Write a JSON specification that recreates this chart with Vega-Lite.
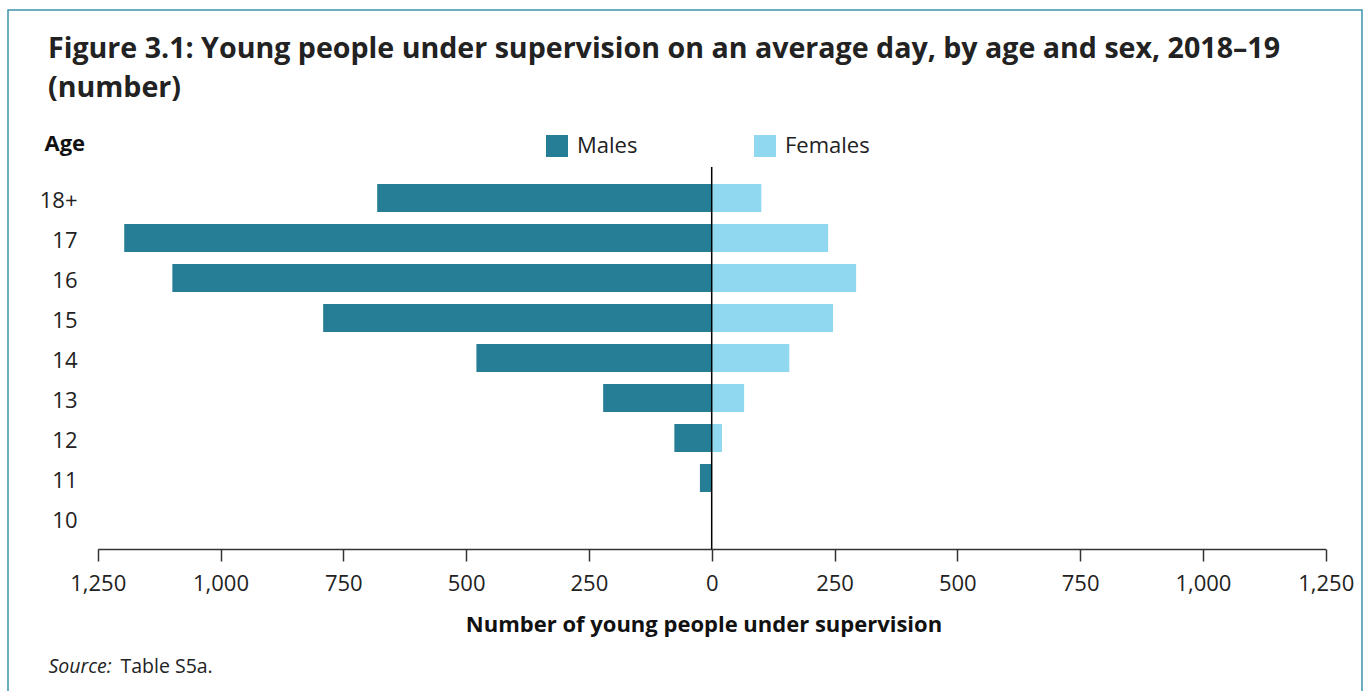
{
  "$schema": "https://vega.github.io/schema/vega-lite/v6.json",
  "width": 1354,
  "height": 681,
  "autosize": {"type": "none"},
  "padding": {"left": 8, "top": 10, "right": 3, "bottom": 0},
  "background": "white",
  "config": {
    "font": "Open Sans",
    "view": {"stroke": "#3b93ad", "strokeWidth": 1.5, "strokeDash": [2035, 1354, 681], "fill": "white"},
    "axis": {"grid": false, "labelFlush": false}
  },
  "title": {
    "text": ["Figure 3.1: Young people under supervision on an average day, by age and sex, 2018–19", "(number)"],
    "anchor": "start",
    "frame": "group",
    "orient": "top",
    "offset": -93,
    "dx": 40,
    "font": "Open Sans",
    "fontSize": 28.6,
    "fontWeight": "bold",
    "color": "#222222",
    "lineHeight": 39
  },
  "datasets": {
    "supervision": [
      {"age": "18+", "sex": "Males", "count": 681},
      {"age": "17", "sex": "Males", "count": 1196},
      {"age": "16", "sex": "Males", "count": 1098},
      {"age": "15", "sex": "Males", "count": 791},
      {"age": "14", "sex": "Males", "count": 479},
      {"age": "13", "sex": "Males", "count": 221},
      {"age": "12", "sex": "Males", "count": 76},
      {"age": "11", "sex": "Males", "count": 24},
      {"age": "10", "sex": "Males", "count": 0},
      {"age": "18+", "sex": "Females", "count": 101},
      {"age": "17", "sex": "Females", "count": 237},
      {"age": "16", "sex": "Females", "count": 294},
      {"age": "15", "sex": "Females", "count": 247},
      {"age": "14", "sex": "Females", "count": 158},
      {"age": "13", "sex": "Females", "count": 66},
      {"age": "12", "sex": "Females", "count": 21},
      {"age": "11", "sex": "Females", "count": 0},
      {"age": "10", "sex": "Females", "count": 0}
    ]
  },
  "layer": [
    {
      "layer": [
        {
          "data": {"name": "supervision"},
          "transform": [{"filter": {"field": "sex", "equal": "Males"}}],
          "mark": {"type": "bar"},
          "encoding": {
            "y": {
              "field": "age",
              "type": "ordinal",
              "scale": {
                "domain": ["18+", "17", "16", "15", "14", "13", "12", "11", "10"],
                "range": [157, 539],
                "paddingInner": 0.3,
                "paddingOuter": 0.425
              },
              "axis": {
                "orient": "left",
                "offset": -90,
                "domain": false,
                "ticks": false,
                "labelPadding": 21,
                "labelOffset": 3,
                "labelFontSize": 22,
                "labelColor": "#222222",
                "title": "Age",
                "titleAngle": 0,
                "titleX": -54,
                "titleY": 133,
                "titleAlign": "left",
                "titleBaseline": "middle",
                "titleFontSize": 22,
                "titleFontWeight": "bold",
                "titleColor": "#111111"
              }
            },
            "x": {
              "field": "count",
              "type": "quantitative",
              "scale": {"domain": [0, 1250], "range": [703.7, 89.7], "nice": false},
              "axis": {
                "orient": "bottom",
                "offset": -142,
                "values": [0, 250, 500, 750, 1000, 1250],
                "format": ",d",
                "labelFontSize": 22,
                "labelColor": "#222222",
                "labelPadding": 12,
                "tickSize": 12,
                "tickColor": "#333333",
                "tickWidth": 1.5,
                "domainColor": "#333333",
                "domainWidth": 1.5,
                "title": "Number of young people under supervision",
                "titleFontSize": 22,
                "titleFontWeight": "bold",
                "titleColor": "#111111",
                "titleX": 695.5,
                "titleY": 75,
                "titleAlign": "center",
                "titleBaseline": "middle"
              }
            },
            "color": {
              "field": "sex",
              "type": "nominal",
              "scale": {"domain": ["Males", "Females"], "range": ["#257e96", "#8fd8f0"]},
              "legend": {
                "orient": "none",
                "legendX": 538,
                "legendY": 125,
                "direction": "horizontal",
                "title": null,
                "symbolType": "square",
                "symbolSize": 484,
                "symbolStrokeWidth": 0,
                "labelFontSize": 22,
                "labelColor": "#222222",
                "labelOffset": 9,
                "columnPadding": 116,
                "padding": 0
              }
            }
          }
        },
        {
          "data": {"name": "supervision"},
          "transform": [{"filter": {"field": "sex", "equal": "Females"}}],
          "mark": {"type": "bar"},
          "encoding": {
            "y": {
              "field": "age",
              "type": "ordinal",
              "scale": {
                "domain": ["18+", "17", "16", "15", "14", "13", "12", "11", "10"],
                "range": [157, 539],
                "paddingInner": 0.3,
                "paddingOuter": 0.425
              }
            },
            "x": {
              "field": "count",
              "type": "quantitative",
              "scale": {"domain": [0, 1250], "range": [703.7, 1317.7], "nice": false},
              "axis": {
                "orient": "bottom",
                "offset": -142,
                "values": [250, 500, 750, 1000, 1250],
                "format": ",d",
                "labelFontSize": 22,
                "labelColor": "#222222",
                "labelPadding": 12,
                "tickSize": 12,
                "tickColor": "#333333",
                "tickWidth": 1.5,
                "domainColor": "#333333",
                "domainWidth": 1.5,
                "title": "Source:",
                "titleFontSize": 19.5,
                "titleFontWeight": "normal",
                "titleFontStyle": "italic",
                "titleColor": "#222222",
                "titleX": 40,
                "titleY": 117,
                "titleAlign": "left",
                "titleBaseline": "middle"
              }
            },
            "color": {"field": "sex", "type": "nominal"}
          }
        }
      ],
      "resolve": {"scale": {"x": "independent"}}
    },
    {
      "data": {"values": [{}]},
      "mark": {"type": "rule", "color": "#000000", "strokeWidth": 1.5},
      "encoding": {
        "x": {
          "datum": 0,
          "type": "quantitative",
          "scale": {"domain": [0, 1250], "range": [703.7, 1317.7], "nice": false},
          "axis": {
            "orient": "bottom",
            "offset": -142,
            "domain": false,
            "ticks": false,
            "labels": false,
            "title": "Table S5a.",
            "titleFontSize": 19.5,
            "titleFontWeight": "normal",
            "titleColor": "#222222",
            "titleX": 112,
            "titleY": 117,
            "titleAlign": "left",
            "titleBaseline": "middle"
          }
        },
        "y": {"datum": 0, "type": "quantitative", "scale": {"domain": [0, 1], "range": [157, 539], "nice": false, "zero": false}, "axis": null},
        "y2": {"datum": 1}
      }
    }
  ],
  "resolve": {"scale": {"x": "independent", "y": "independent"}}
}
